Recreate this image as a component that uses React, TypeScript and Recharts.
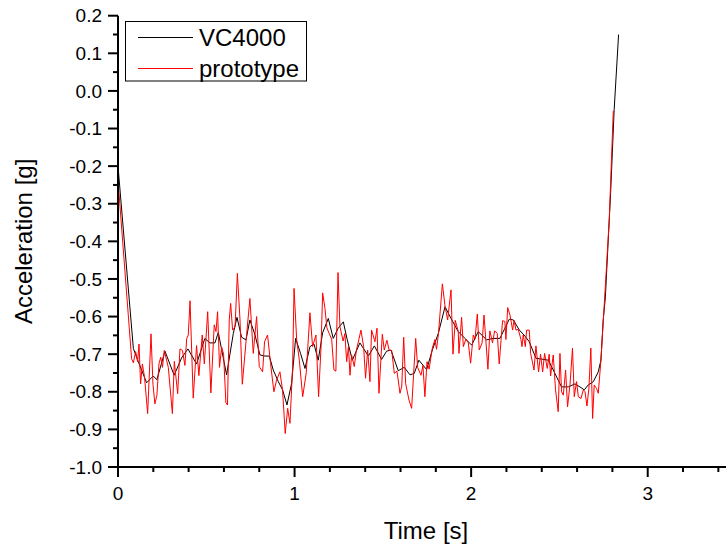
import React from 'react';
import { LineChart, Line, XAxis, YAxis } from 'recharts';

// [time s, acceleration g]
const vc4000: [number, number][] = [
  [0.0, -0.2], [0.087, -0.685], [0.115, -0.72], [0.162, -0.776], [0.2, -0.758], [0.22, -0.768],
  [0.266, -0.692], [0.318, -0.756], [0.36, -0.71], [0.396, -0.686], [0.445, -0.726], [0.492, -0.658],
  [0.52, -0.67], [0.549, -0.67], [0.568, -0.642], [0.615, -0.755], [0.653, -0.645], [0.674, -0.602],
  [0.7, -0.655], [0.725, -0.662], [0.747, -0.609], [0.776, -0.649], [0.804, -0.702], [0.832, -0.705],
  [0.857, -0.705], [0.879, -0.742], [0.908, -0.773], [0.932, -0.795], [0.957, -0.835], [0.983, -0.778],
  [1.006, -0.658], [1.034, -0.698], [1.059, -0.738], [1.087, -0.68], [1.11, -0.673], [1.134, -0.716],
  [1.159, -0.643], [1.191, -0.605], [1.219, -0.658], [1.247, -0.631], [1.276, -0.614], [1.298, -0.661],
  [1.327, -0.716], [1.37, -0.67], [1.418, -0.705], [1.452, -0.678], [1.493, -0.714], [1.521, -0.692],
  [1.546, -0.689], [1.587, -0.744], [1.621, -0.735], [1.654, -0.755], [1.678, -0.751], [1.704, -0.716],
  [1.748, -0.741], [1.78, -0.689], [1.814, -0.645], [1.852, -0.574], [1.886, -0.605], [1.927, -0.64],
  [1.965, -0.658], [2.003, -0.676], [2.04, -0.64], [2.088, -0.662], [2.125, -0.658], [2.163, -0.658],
  [2.191, -0.631], [2.216, -0.607], [2.239, -0.609], [2.273, -0.636], [2.305, -0.652], [2.329, -0.667],
  [2.367, -0.711], [2.399, -0.713], [2.437, -0.716], [2.465, -0.742], [2.493, -0.769], [2.512, -0.787],
  [2.55, -0.787], [2.588, -0.779], [2.616, -0.787], [2.641, -0.795], [2.663, -0.782], [2.692, -0.773],
  [2.72, -0.747], [2.735, -0.716], [2.748, -0.609], [2.76, -0.55], [2.79, -0.27], [2.81, -0.05],
  [2.835, 0.15],
];

const prototype: [number, number][] = [
  [0.0, -0.237], [0.077, -0.712], [0.087, -0.723], [0.1, -0.693], [0.111, -0.72], [0.119, -0.673],
  [0.128, -0.779], [0.138, -0.726], [0.15, -0.76], [0.168, -0.858], [0.187, -0.646], [0.198, -0.78],
  [0.209, -0.832], [0.22, -0.81], [0.232, -0.726], [0.242, -0.708], [0.252, -0.735], [0.262, -0.69],
  [0.285, -0.735], [0.308, -0.858], [0.319, -0.719], [0.338, -0.805], [0.351, -0.686], [0.365, -0.69],
  [0.379, -0.73], [0.389, -0.659], [0.398, -0.649], [0.408, -0.558], [0.426, -0.817], [0.445, -0.677],
  [0.458, -0.757], [0.477, -0.649], [0.489, -0.726], [0.508, -0.587], [0.526, -0.803], [0.545, -0.622],
  [0.555, -0.64], [0.564, -0.587], [0.575, -0.735], [0.587, -0.681], [0.598, -0.7], [0.611, -0.829],
  [0.62, -0.835], [0.63, -0.609], [0.638, -0.565], [0.649, -0.636], [0.663, -0.627], [0.676, -0.485],
  [0.691, -0.609], [0.704, -0.78], [0.729, -0.645], [0.747, -0.552], [0.766, -0.698], [0.785, -0.6],
  [0.8, -0.733], [0.819, -0.747], [0.83, -0.667], [0.847, -0.649], [0.864, -0.725], [0.883, -0.8],
  [0.898, -0.769], [0.917, -0.747], [0.932, -0.796], [0.947, -0.911], [0.961, -0.844], [0.974, -0.884],
  [0.989, -0.733], [0.997, -0.525], [1.012, -0.663], [1.027, -0.716], [1.046, -0.813], [1.066, -0.75],
  [1.087, -0.59], [1.102, -0.68], [1.121, -0.649], [1.136, -0.813], [1.15, -0.68], [1.159, -0.537],
  [1.172, -0.578], [1.183, -0.63], [1.196, -0.645], [1.21, -0.66], [1.223, -0.742], [1.234, -0.745],
  [1.246, -0.483], [1.257, -0.627], [1.275, -0.665], [1.285, -0.645], [1.295, -0.72], [1.305, -0.68],
  [1.314, -0.756], [1.323, -0.702], [1.338, -0.733], [1.35, -0.69], [1.376, -0.636], [1.391, -0.68],
  [1.402, -0.764], [1.414, -0.689], [1.427, -0.773], [1.436, -0.636], [1.455, -0.667], [1.467, -0.631],
  [1.478, -0.804], [1.497, -0.647], [1.508, -0.689], [1.523, -0.663], [1.536, -0.69], [1.55, -0.69],
  [1.565, -0.751], [1.58, -0.745], [1.597, -0.804], [1.607, -0.785], [1.618, -0.655], [1.629, -0.778],
  [1.648, -0.822], [1.663, -0.844], [1.686, -0.658], [1.697, -0.735], [1.716, -0.756], [1.727, -0.73],
  [1.738, -0.813], [1.75, -0.72], [1.762, -0.74], [1.78, -0.684], [1.795, -0.661], [1.804, -0.687],
  [1.815, -0.645], [1.837, -0.513], [1.852, -0.572], [1.867, -0.609], [1.886, -0.529], [1.897, -0.7],
  [1.91, -0.61], [1.927, -0.64], [1.931, -0.698], [1.946, -0.602], [1.956, -0.68], [1.97, -0.66],
  [1.984, -0.67], [1.997, -0.724], [2.012, -0.649], [2.022, -0.66], [2.035, -0.593], [2.046, -0.689],
  [2.062, -0.67], [2.073, -0.596], [2.084, -0.668], [2.095, -0.74], [2.106, -0.638], [2.121, -0.67],
  [2.133, -0.638], [2.148, -0.645], [2.159, -0.726], [2.178, -0.611], [2.191, -0.613], [2.197, -0.661],
  [2.207, -0.576], [2.22, -0.596], [2.235, -0.636], [2.243, -0.61], [2.254, -0.636], [2.267, -0.634],
  [2.282, -0.661], [2.288, -0.68], [2.295, -0.649], [2.307, -0.68], [2.314, -0.636], [2.329, -0.636],
  [2.337, -0.698], [2.356, -0.742], [2.367, -0.678], [2.382, -0.747], [2.393, -0.7], [2.405, -0.747],
  [2.416, -0.698], [2.431, -0.738], [2.442, -0.7], [2.45, -0.758], [2.465, -0.702], [2.478, -0.795],
  [2.493, -0.853], [2.503, -0.698], [2.512, -0.8], [2.522, -0.809], [2.535, -0.742], [2.546, -0.84],
  [2.56, -0.78], [2.574, -0.684], [2.584, -0.813], [2.597, -0.773], [2.607, -0.813], [2.622, -0.818],
  [2.635, -0.795], [2.645, -0.8], [2.656, -0.838], [2.667, -0.79], [2.678, -0.684], [2.688, -0.871],
  [2.697, -0.782], [2.71, -0.791], [2.72, -0.804], [2.735, -0.716], [2.748, -0.614], [2.765, -0.48],
  [2.782, -0.343], [2.805, -0.053],
];

const seriesNames = ['VC4000', 'prototype'];
const seriesColors = ['#000000', '#ff0000'];

const xMajorTicks = [0, 1, 2, 3];
const xMinorTicks = [0.2, 0.4, 0.6, 0.8, 1.2, 1.4, 1.6, 1.8, 2.2, 2.4, 2.6, 2.8, 3.2, 3.4];
const yMajorTicks = [0.2, 0.1, 0.0, -0.1, -0.2, -0.3, -0.4, -0.5, -0.6, -0.7, -0.8, -0.9, -1.0];
const yMinorTicks = [0.15, 0.05, -0.05, -0.15, -0.25, -0.35, -0.45, -0.55, -0.65, -0.75, -0.85, -0.95];

const xTitle = 'Time [s]';
const yTitle = 'Acceleration [g]';

const FONT = '"Liberation Sans", Arial, Helvetica, sans-serif';

const isIn = (arr: number[], v: number) => arr.some((a) => Math.abs(a - v) < 1e-6);

const XTick = (props: any) => {
  const { x, y, payload } = props;
  const major = isIn(xMajorTicks, payload.value);
  return (
    <g>
      <line x1={x} x2={x} y1={y} y2={y + (major ? 10 : 5)} stroke="#000" strokeWidth={2} />
      {major && (
        <text x={x} y={y + 33} textAnchor="middle" fontSize={19} fontFamily={FONT} fill="#000">
          {String(payload.value)}
        </text>
      )}
    </g>
  );
};

const YTick = (props: any) => {
  const { x, y, payload } = props;
  const major = isIn(yMajorTicks, payload.value);
  return (
    <g>
      <line x1={x - (major ? 10 : 5)} x2={x} y1={y} y2={y} stroke="#000" strokeWidth={2} />
      {major && (
        <text x={x - 16} y={y} dy="0.35em" textAnchor="end" fontSize={19} fontFamily={FONT} fill="#000">
          {Number(payload.value).toFixed(1)}
        </text>
      )}
    </g>
  );
};

export default function App() {
  const d0 = vc4000.map(([t, v]) => ({ t, v }));
  const d1 = prototype.map(([t, v]) => ({ t, v }));
  return (
    <div
      style={{
        position: 'fixed',
        left: 0,
        top: 0,
        width: 726,
        height: 546,
        overflow: 'hidden',
        background: '#fff',
      }}
    >
      <LineChart width={740} height={546} margin={{ top: 15.7, right: 4, left: 0, bottom: 0 }}>
        <XAxis
          type="number"
          dataKey="t"
          domain={[0, 3.5]}
          allowDataOverflow
          ticks={[...xMajorTicks, ...xMinorTicks]}
          interval={0}
          tickSize={0}
          tickMargin={0}
          tickLine={false}
          height={79}
          axisLine={{ stroke: '#000', strokeWidth: 2 }}
          tick={(p: any) => <XTick {...p} />}
        />
        <YAxis
          type="number"
          domain={[-1, 0.2]}
          allowDataOverflow
          ticks={[...yMajorTicks, ...yMinorTicks]}
          interval={0}
          tickSize={0}
          tickMargin={0}
          tickLine={false}
          width={118}
          axisLine={{ stroke: '#000', strokeWidth: 2 }}
          tick={(p: any) => <YTick {...p} />}
        />
        <Line
          data={d0}
          dataKey="v"
          type="linear"
          stroke={seriesColors[0]}
          strokeWidth={1}
          dot={false}
          activeDot={false}
          isAnimationActive={false}
        />
        <Line
          data={d1}
          dataKey="v"
          type="linear"
          stroke={seriesColors[1]}
          strokeWidth={1}
          dot={false}
          activeDot={false}
          isAnimationActive={false}
        />
      </LineChart>
      <svg
        width={726}
        height={546}
        style={{ position: 'absolute', left: 0, top: 0, pointerEvents: 'none' }}
      >
        <text x={426} y={539} textAnchor="middle" fontSize={24} fontFamily={FONT} fill="#000">
          {xTitle}
        </text>
        <text
          transform="translate(32, 241.4) rotate(-90)"
          textAnchor="middle"
          fontSize={24}
          fontFamily={FONT}
          fill="#000"
        >
          {yTitle}
        </text>
        <rect x={125.5} y={21.5} width={181} height={59.5} fill="#fff" stroke="#000" strokeWidth={1} />
        {seriesNames.map((name, i) => (
          <g key={name}>
            <line x1={138} x2={193} y1={37.5 + i * 31} y2={37.5 + i * 31} stroke={seriesColors[i]} strokeWidth={1} />
            <text x={199} y={45.7 + i * 31} fontSize={24} fontFamily={FONT} fill="#000">
              {name}
            </text>
          </g>
        ))}
      </svg>
    </div>
  );
}
